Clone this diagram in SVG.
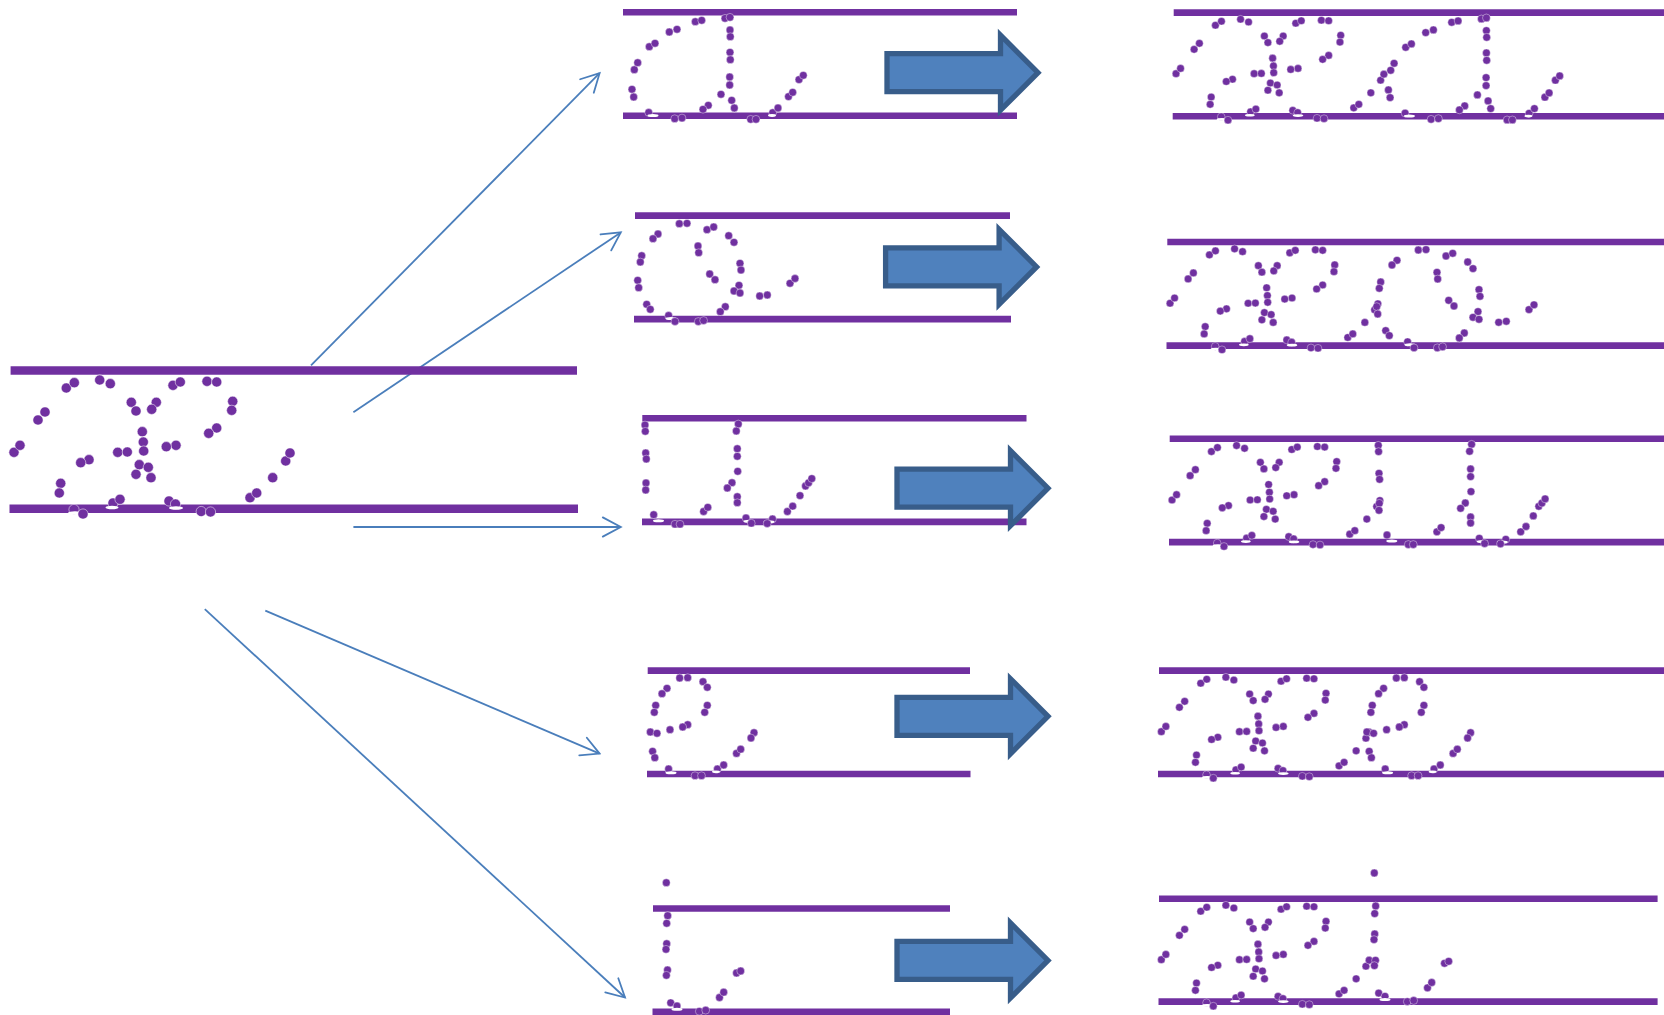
<svg xmlns="http://www.w3.org/2000/svg" width="1664" height="1015" viewBox="0 0 1664 1015">
<style>
.bar{stroke:#7030a0;stroke-width:6.6;fill:none}
.bar2{stroke:#7030a0;stroke-width:8.6;fill:none}
.x circle{fill:#7030a0;stroke:#fff;stroke-width:.5;r:5.1px}
.x ellipse{fill:#fff}
.g circle{fill:#7030a0;stroke:#fff;stroke-width:.4;r:3.9px}
.g ellipse{fill:#fff}
.big{fill:#4f81bd;stroke:#385d8a;stroke-width:5.3;stroke-miterlimit:8}
.c{stroke:#4a7ebb;stroke-width:1.8;fill:none;marker-end:url(#open)}
</style>
<defs>
<marker id="open" markerUnits="userSpaceOnUse" viewBox="-20 -12 22 24" refX="0" refY="0" markerWidth="22" markerHeight="24" orient="auto">
<path d="M-18,-9.6L0,0L-18,9.6" fill="none" stroke="#4a7ebb" stroke-width="1.8" stroke-linecap="round"/>
</marker>
<path id="blk" class="big" d="M0,-19H113.5V-37.5L151,0L113.5,37.5V19H0Z"/>
<g id="gx" class="x">
<circle cx="14" cy="452.3" r="4.7"/><circle cx="20" cy="445.3" r="4.7"/><circle cx="38" cy="420" r="4.7"/><circle cx="45" cy="412" r="4.7"/><circle cx="66.3" cy="388" r="4.7"/><circle cx="74.3" cy="382.7" r="4.7"/><circle cx="99.7" cy="380" r="4.7"/><circle cx="110.3" cy="383.7" r="4.7"/><circle cx="131.3" cy="402.3" r="4.7"/><circle cx="136" cy="411" r="4.7"/><circle cx="156.3" cy="402.3" r="4.7"/><circle cx="151.7" cy="409.3" r="4.7"/><circle cx="173" cy="385.3" r="4.7"/><circle cx="180.3" cy="382" r="4.7"/><circle cx="207" cy="381.3" r="4.7"/><circle cx="216.7" cy="382" r="4.7"/><circle cx="232.7" cy="401.3" r="4.7"/><circle cx="231.7" cy="410.3" r="4.7"/><circle cx="216.7" cy="428" r="4.7"/><circle cx="208.7" cy="433.3" r="4.7"/><circle cx="176" cy="445.3" r="4.7"/><circle cx="166.3" cy="446.7" r="4.7"/><circle cx="142.3" cy="431.7" r="4.7"/><circle cx="143.3" cy="442" r="4.7"/><circle cx="143.7" cy="451" r="4.7"/><circle cx="117.7" cy="452.3" r="4.7"/><circle cx="127.3" cy="452" r="4.7"/><circle cx="89" cy="459.7" r="4.7"/><circle cx="80.7" cy="462.7" r="4.7"/><circle cx="139.3" cy="464.7" r="4.7"/><circle cx="148.3" cy="467.3" r="4.7"/><circle cx="136" cy="474.3" r="4.7"/><circle cx="151" cy="477.7" r="4.7"/><circle cx="60.7" cy="483.3" r="4.7"/><circle cx="59.3" cy="493" r="4.7"/>
<circle cx="74" cy="509.5" r="4.7"/><circle cx="113" cy="503" r="4.7"/><circle cx="120" cy="499.3" r="4.7"/><circle cx="169" cy="501" r="4.7"/><circle cx="175.5" cy="504" r="4.7"/>
<ellipse cx="75" cy="513" rx="7" ry="1.8"/><ellipse cx="112" cy="507.5" rx="6.5" ry="1.8"/><ellipse cx="176" cy="508" rx="7" ry="1.8"/>
<circle cx="83" cy="514" r="4.7"/><circle cx="201.2" cy="511.5" r="4.7"/><circle cx="210.5" cy="512" r="4.7"/><circle cx="250" cy="497.7" r="4.7"/><circle cx="256.7" cy="493" r="4.7"/><circle cx="272.7" cy="477.7" r="4.7"/><circle cx="285.7" cy="461" r="4.7"/><circle cx="290" cy="453" r="4.7"/>
</g>
<g id="gd" class="g">
<circle cx="632" cy="89.3" r="3.5"/><circle cx="633.7" cy="97" r="3.5"/><circle cx="634.3" cy="69.7" r="3.5"/><circle cx="637.7" cy="62.7" r="3.5"/><circle cx="649.3" cy="46.7" r="3.5"/><circle cx="655" cy="43.3" r="3.5"/><circle cx="669.3" cy="32" r="3.5"/><circle cx="677" cy="29.3" r="3.5"/><circle cx="695.3" cy="21.7" r="3.5"/><circle cx="701.7" cy="20.3" r="3.5"/><circle cx="725" cy="18.3" r="3.5"/><circle cx="730" cy="17.3" r="3.5"/><circle cx="730" cy="30" r="3.5"/><circle cx="730.3" cy="36.7" r="3.5"/><circle cx="730" cy="52.3" r="3.5"/><circle cx="730.3" cy="59.7" r="3.5"/><circle cx="729.7" cy="77" r="3.5"/><circle cx="729.7" cy="85" r="3.5"/><circle cx="721" cy="94.3" r="3.5"/><circle cx="731.7" cy="100.3" r="3.5"/><circle cx="734.3" cy="108" r="3.5"/><circle cx="708.3" cy="105.3" r="3.5"/><circle cx="703" cy="109.3" r="3.5"/>
<circle cx="648.7" cy="112.5" r="3.5"/><ellipse cx="653" cy="115.5" rx="5.5" ry="1.5"/><circle cx="772.7" cy="112.7" r="3.5"/><ellipse cx="772" cy="115.5" rx="4" ry="1.4"/>
<circle cx="674.7" cy="118.7" r="3.5"/><circle cx="682" cy="118" r="3.5"/><circle cx="750.7" cy="119.3" r="3.5"/><circle cx="756" cy="119.3" r="3.5"/><circle cx="778" cy="108" r="3.5"/><circle cx="788.5" cy="96.6" r="3.5"/><circle cx="792.7" cy="92.3" r="3.5"/><circle cx="799" cy="79.6" r="3.5"/><circle cx="803.3" cy="75.3" r="3.5"/>
</g>
<g id="gq" class="g">
<circle cx="658" cy="234" r="3.5"/><circle cx="653" cy="238.7" r="3.5"/><circle cx="679.3" cy="223.7" r="3.5"/><circle cx="687" cy="223.3" r="3.5"/><circle cx="707" cy="229.7" r="3.5"/><circle cx="713.7" cy="227" r="3.5"/><circle cx="728.7" cy="235.7" r="3.5"/><circle cx="734" cy="242.3" r="3.5"/><circle cx="698" cy="246" r="3.5"/><circle cx="698.7" cy="252.7" r="3.5"/><circle cx="641.7" cy="255.7" r="3.5"/><circle cx="640.3" cy="262" r="3.5"/><circle cx="740" cy="263.3" r="3.5"/><circle cx="741" cy="270" r="3.5"/><circle cx="709.7" cy="274" r="3.5"/><circle cx="715" cy="279.7" r="3.5"/><circle cx="637.7" cy="280.3" r="3.5"/><circle cx="638.7" cy="287.7" r="3.5"/><circle cx="739" cy="285.3" r="3.5"/><circle cx="734" cy="291" r="3.5"/><circle cx="740" cy="293" r="3.5"/><circle cx="759.7" cy="296" r="3.5"/><circle cx="767.3" cy="295" r="3.5"/><circle cx="790" cy="283.3" r="3.5"/><circle cx="795" cy="278.5" r="3.5"/><circle cx="646.7" cy="304.3" r="3.5"/><circle cx="650.3" cy="309.3" r="3.5"/><circle cx="725.3" cy="306.7" r="3.5"/><circle cx="720.3" cy="311.7" r="3.5"/>
<circle cx="668.6" cy="315.5" r="3.5"/><ellipse cx="671" cy="318.4" rx="5.5" ry="1.5"/><circle cx="675" cy="321.5" r="3.5"/><circle cx="698.3" cy="321.5" r="3.5"/><circle cx="703.6" cy="320.5" r="3.5"/>
</g>
<g id="gt" class="g">
<circle cx="645" cy="425" r="3.5"/><circle cx="645.3" cy="431.3" r="3.5"/><circle cx="645.7" cy="453" r="3.5"/><circle cx="646.3" cy="459" r="3.5"/><circle cx="646" cy="483" r="3.5"/><circle cx="645.7" cy="490" r="3.5"/><circle cx="738.3" cy="424" r="3.5"/><circle cx="736.3" cy="431" r="3.5"/><circle cx="737.3" cy="448.7" r="3.5"/><circle cx="737.3" cy="456.3" r="3.5"/><circle cx="737.7" cy="471.3" r="3.5"/><circle cx="732" cy="482.7" r="3.5"/><circle cx="727.3" cy="488" r="3.5"/><circle cx="737.3" cy="496.7" r="3.5"/><circle cx="737.3" cy="502.7" r="3.5"/>
<circle cx="653.7" cy="514.7" r="3.5"/><circle cx="746" cy="518" r="3.5"/><circle cx="772.5" cy="519" r="3.5"/><ellipse cx="658.5" cy="520.8" rx="5.5" ry="1.5"/><ellipse cx="749" cy="521.3" rx="5.5" ry="1.5"/><ellipse cx="769" cy="521.8" rx="5.5" ry="1.5"/>
<circle cx="675" cy="524.2" r="3.5"/><circle cx="680" cy="524.2" r="3.5"/><circle cx="703.6" cy="511.5" r="3.5"/><circle cx="707.8" cy="507.3" r="3.5"/><circle cx="751.3" cy="523.2" r="3.5"/><circle cx="767.2" cy="523.5" r="3.5"/><circle cx="787.4" cy="511.5" r="3.5"/><circle cx="792.7" cy="506.2" r="3.5"/><circle cx="800" cy="495.6" r="3.5"/><circle cx="805.5" cy="486" r="3.5"/><circle cx="808.6" cy="482.8" r="3.5"/><circle cx="811.8" cy="478.6" r="3.5"/>
</g>
<g id="ge" class="g">
<circle cx="679.7" cy="678" r="3.5"/><circle cx="687.7" cy="677.7" r="3.5"/><circle cx="703" cy="681.7" r="3.5"/><circle cx="707.3" cy="687.3" r="3.5"/><circle cx="667" cy="688.3" r="3.5"/><circle cx="662" cy="693.7" r="3.5"/><circle cx="655.7" cy="705.3" r="3.5"/><circle cx="654.3" cy="712.3" r="3.5"/><circle cx="707.3" cy="705.3" r="3.5"/><circle cx="704.7" cy="712.3" r="3.5"/><circle cx="687.7" cy="724.7" r="3.5"/><circle cx="682.7" cy="727" r="3.5"/><circle cx="670" cy="729.7" r="3.5"/><circle cx="650.3" cy="732" r="3.5"/><circle cx="657" cy="733.3" r="3.5"/><circle cx="754" cy="732.7" r="3.5"/><circle cx="751" cy="738" r="3.5"/><circle cx="652.6" cy="751.3" r="3.5"/><circle cx="654.8" cy="757.7" r="3.5"/>
<circle cx="668.6" cy="769" r="3.5"/><circle cx="717.4" cy="769" r="3.5"/><ellipse cx="671" cy="772.8" rx="5.5" ry="1.5"/><ellipse cx="716" cy="771.8" rx="4" ry="1.4"/>
<circle cx="695" cy="775.7" r="3.5"/><circle cx="701.5" cy="775.7" r="3.5"/><circle cx="723.7" cy="765" r="3.5"/><circle cx="736.5" cy="753.4" r="3.5"/><circle cx="740.7" cy="749.2" r="3.5"/>
</g>
<g id="gi" class="g">
<circle cx="666.3" cy="882.7" r="3.5"/><circle cx="667.7" cy="915.7" r="3.5"/><circle cx="666.7" cy="923.3" r="3.5"/><circle cx="666.7" cy="943.7" r="3.5"/><circle cx="666" cy="949.3" r="3.5"/><circle cx="667.5" cy="970" r="3.5"/><circle cx="666.4" cy="975.3" r="3.5"/><circle cx="670.7" cy="1002.8" r="3.5"/>
<circle cx="677" cy="1006" r="3.5"/><ellipse cx="677" cy="1009.3" rx="5.5" ry="1.5"/><circle cx="699.3" cy="1011.3" r="3.5"/><circle cx="705.7" cy="1010.2" r="3.5"/><circle cx="719.5" cy="997.5" r="3.5"/><circle cx="723.7" cy="992.2" r="3.5"/><circle cx="736.5" cy="973" r="3.5"/><circle cx="740.7" cy="971" r="3.5"/>
</g>
</defs>
<rect width="1664" height="1015" fill="#fff"/>
<g id="connectors">
<line class="c" x1="311" y1="365.3" x2="599.6" y2="73.2"/>
<line class="c" x1="353.4" y1="412.2" x2="620.8" y2="232.4"/>
<line class="c" x1="353.4" y1="527" x2="620.8" y2="527"/>
<line class="c" x1="265.3" y1="610.6" x2="599.6" y2="753.6"/>
<line class="c" x1="204.8" y1="609.1" x2="625" y2="997.5"/>
</g>
<g id="source">
<line class="bar2" x1="10.6" y1="370.5" x2="577" y2="370.5"/>
<line class="bar2" x1="9.5" y1="508.7" x2="578" y2="508.7"/>
<use href="#gx"/>
</g>
<g id="panel-d">
<line class="bar" x1="623" y1="12.3" x2="1017" y2="12.3"/>
<line class="bar" x1="623" y1="115.8" x2="1017" y2="115.8"/>
<use href="#gd"/>
</g>
<g id="panel-q">
<line class="bar" x1="635" y1="215.6" x2="1010" y2="215.6"/>
<line class="bar" x1="634" y1="319.1" x2="1011" y2="319.1"/>
<use href="#gq"/>
</g>
<g id="panel-t">
<line class="bar" x1="642.3" y1="418.3" x2="1026.5" y2="418.3"/>
<line class="bar" x1="642" y1="521.9" x2="1026.5" y2="521.9"/>
<use href="#gt"/>
</g>
<g id="panel-e">
<line class="bar" x1="647.7" y1="670.6" x2="970" y2="670.6"/>
<line class="bar" x1="647" y1="774" x2="970.5" y2="774"/>
<use href="#ge"/>
</g>
<g id="panel-i">
<line class="bar" x1="653" y1="908.5" x2="950" y2="908.5"/>
<line class="bar" x1="652.5" y1="1011.7" x2="950" y2="1011.7"/>
<use href="#gi"/>
</g>
<g id="arrow-1"><use href="#blk" transform="translate(887,72.7)"/></g>
<g id="arrow-2"><use href="#blk" transform="translate(885.6,266.9)"/></g>
<g id="arrow-3"><use href="#blk" transform="translate(897,488.2)"/></g>
<g id="arrow-4"><use href="#blk" transform="translate(897,716.3)"/></g>
<g id="arrow-5"><use href="#blk" transform="translate(897,960.4)"/></g>
<g id="result-d">
<line class="bar" x1="1173.7" y1="12.6" x2="1664" y2="12.6"/>
<line class="bar" x1="1172.7" y1="116.2" x2="1664" y2="116.2"/>
<use href="#gx" transform="translate(1165.5,-266.9) scale(.753)"/>
<use href="#gd" transform="translate(756.4,.6)"/>
</g>
<g id="result-q">
<line class="bar" x1="1167.3" y1="242" x2="1664" y2="242"/>
<line class="bar" x1="1166.5" y1="345.6" x2="1664" y2="345.6"/>
<use href="#gx" transform="translate(1159.5,-37.3) scale(.753)"/>
<use href="#gq" transform="translate(739,26.3)"/>
</g>
<g id="result-t">
<line class="bar" x1="1169.7" y1="438.7" x2="1664" y2="438.7"/>
<line class="bar" x1="1169" y1="542.1" x2="1664" y2="542.1"/>
<use href="#gx" transform="translate(1161.5,159.4) scale(.753)"/>
<use href="#gt" transform="translate(733.3,20.3)"/>
</g>
<g id="result-e">
<line class="bar" x1="1159" y1="670.6" x2="1664" y2="670.6"/>
<line class="bar" x1="1158" y1="774" x2="1664" y2="774"/>
<use href="#gx" transform="translate(1150.8,391.1) scale(.753)"/>
<use href="#ge" transform="translate(716.6,0)"/>
</g>
<g id="result-i">
<line class="bar" x1="1159" y1="898.7" x2="1657.6" y2="898.7"/>
<line class="bar" x1="1158.5" y1="1001.6" x2="1657.6" y2="1001.6"/>
<use href="#gx" transform="translate(1150.8,619.1) scale(.753)"/>
<use href="#gi" transform="translate(708,-9.7)"/>
</g>
</svg>
